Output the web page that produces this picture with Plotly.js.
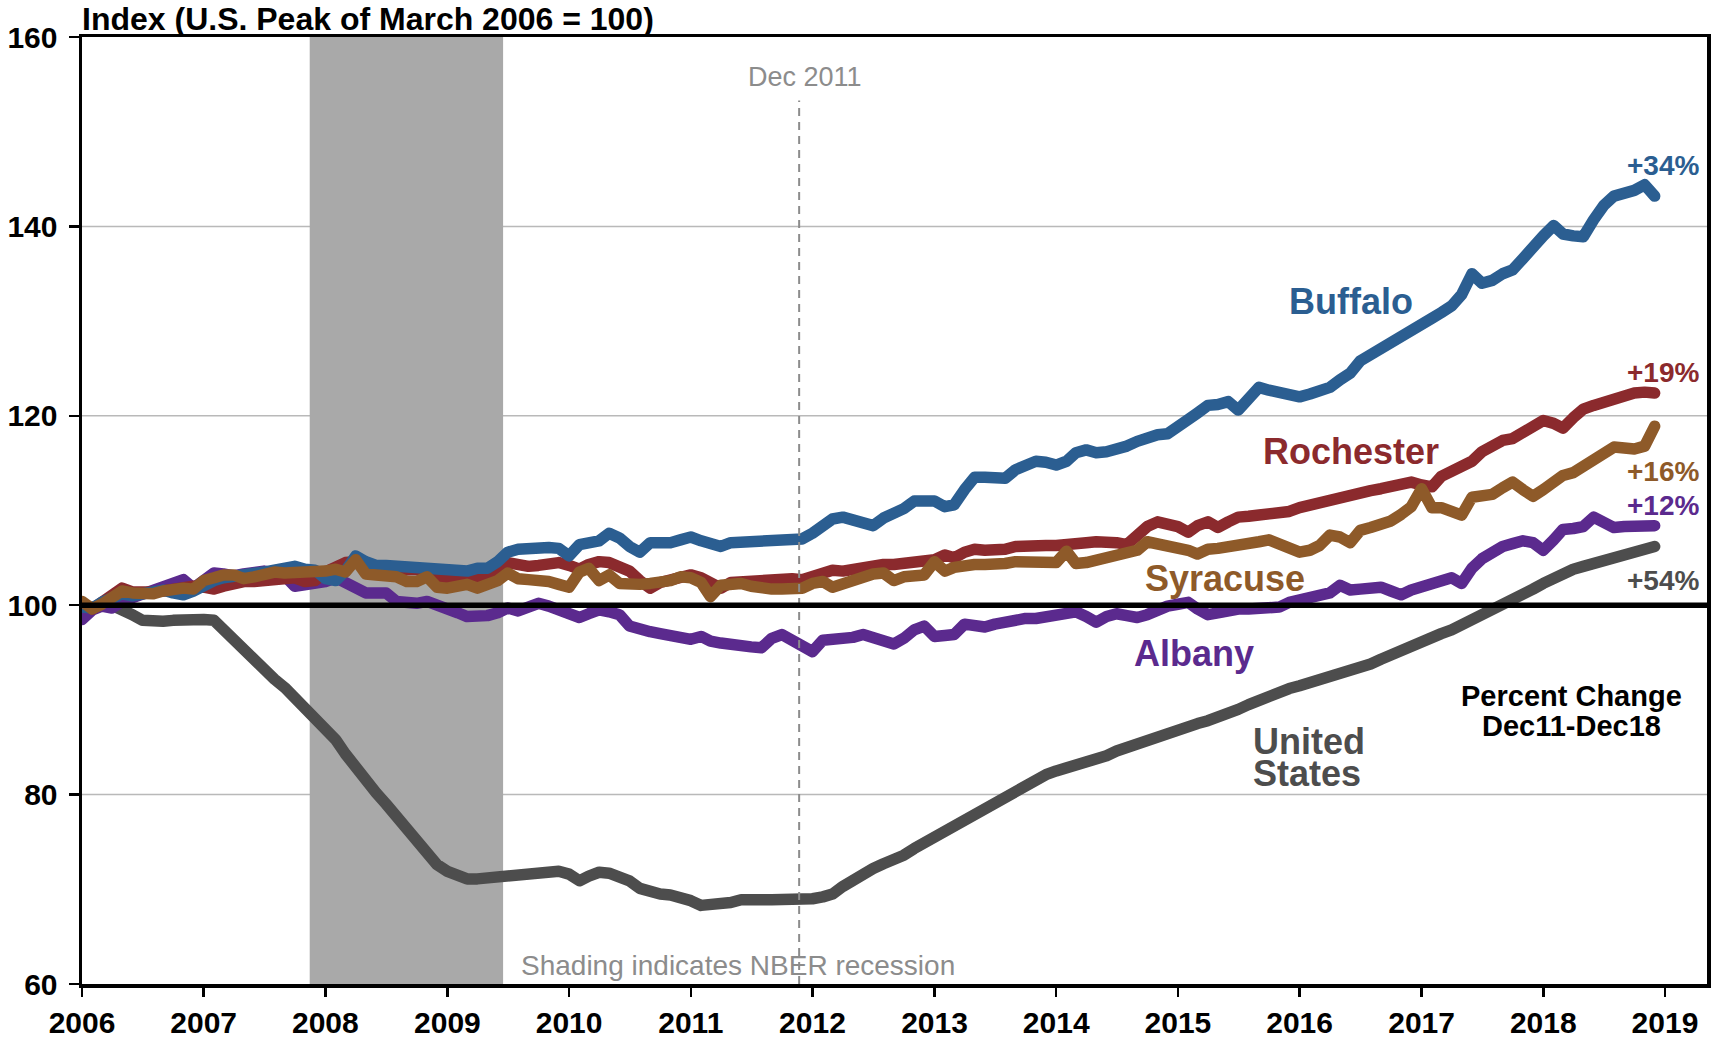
<!DOCTYPE html>
<html>
<head>
<meta charset="utf-8">
<script src="https://cdn.plot.ly/plotly-3.0.1.min.js"></script>
<style>
html,body{margin:0;padding:0;background:#fff;}
#chart{width:1715px;height:1038px;}
.js-line{stroke-linejoin:round !important;stroke-linecap:round !important;}
</style>
</head>
<body>
<div id="chart"></div>
<script>
// Monthly index values, Jan 2006 - Dec 2018 (U.S. peak of March 2006 = 100)
const unitedStates = [
99.5,99.8,100.0,100.0,99.6,99.0,98.4,98.2,98.3,98.4,98.5,98.5,
98.5,98.4,97.4,96.5,95.3,94.0,93.0,92.2,91.3,90.3,89.2,88.2,
87.2,85.8,84.3,82.8,81.5,80.2,79.0,77.7,76.3,74.8,73.5,72.6,
71.9,71.4,71.1,71.1,71.2,71.4,71.5,71.5,71.6,71.9,72.0,71.9,
71.6,70.9,71.4,71.8,71.7,71.4,70.9,70.1,69.7,69.5,69.4,69.2,
68.8,68.3,68.3,68.5,68.6,68.9,69.0,68.9,68.9,68.9,68.8,68.9,
69.0,69.2,69.5,70.3,71.0,71.6,72.2,72.7,73.1,73.6,74.3,74.9,
75.3,75.9,76.6,77.4,78.0,78.6,79.2,79.8,80.4,81.0,81.6,82.1,
82.5,82.8,83.1,83.4,83.7,84.1,84.6,85.0,85.4,85.8,86.2,86.6,
86.9,87.2,87.5,87.8,88.1,88.5,89.0,89.5,90.0,90.4,90.9,91.2,
91.5,91.8,92.1,92.4,92.7,93.0,93.3,93.8,94.3,94.8,95.3,95.8,
96.2,96.6,97.0,97.4,97.9,98.4,98.9,99.4,100.0,100.6,101.1,101.7,
102.3,102.9,103.4,103.8,104.1,104.4,104.7,105.0,105.3,105.6,105.9,106.2
];
const buffalo = [
99.8,99.7,100.3,100.8,101.2,101.0,101.2,101.4,101.6,101.3,101.1,101.5,
102.2,102.6,102.9,103.0,103.1,103.4,103.5,103.7,104.0,104.1,103.8,103.7,
102.8,102.6,103.6,105.2,104.6,104.2,104.2,104.1,103.9,103.8,103.9,103.9,
103.8,103.4,103.6,103.9,103.9,104.6,105.6,105.9,106.0,106.2,106.1,106.0,
105.2,106.4,106.6,106.8,107.6,107.1,106.2,105.6,106.6,106.5,106.6,106.9,
107.2,106.8,106.4,106.2,106.6,106.7,106.7,106.7,106.8,107.0,107.1,107.0,
107.6,108.3,109.1,109.3,109.0,108.7,108.4,109.2,109.6,110.2,111.0,111.1,
111.0,110.4,110.6,112.2,113.5,113.5,113.3,113.4,114.3,114.8,115.2,115.1,
114.8,115.2,116.1,116.4,116.1,116.2,116.4,116.8,117.3,117.7,118.0,118.1,
119.0,119.6,120.3,121.1,121.2,121.5,120.6,121.8,123.0,122.7,122.4,122.1,
122.0,122.3,122.6,123.0,123.8,124.5,125.8,126.5,127.2,127.8,128.4,129.2,
129.6,130.3,130.9,131.6,132.8,135.0,134.0,134.3,135.0,135.4,136.6,137.6,
139.0,140.1,139.2,139.0,138.9,140.7,142.2,143.2,143.4,143.8,144.4,143.2
];
const rochester = [
100.2,99.6,100.3,101.0,101.8,101.4,101.3,101.4,101.5,101.7,101.9,102.0,
101.9,101.7,102.0,102.4,102.5,102.5,102.6,102.7,102.8,102.9,102.5,102.6,
103.5,104.1,104.5,104.6,103.7,103.6,103.7,103.8,103.8,103.8,103.4,102.9,
102.7,102.9,102.9,102.7,103.1,103.6,104.5,104.2,104.1,104.2,104.3,104.5,
104.2,103.8,104.3,104.6,104.5,104.2,103.6,102.6,101.8,102.4,102.7,102.9,
103.2,102.9,102.4,101.8,102.4,102.5,102.6,102.7,102.8,102.9,102.8,102.7,
103.0,103.5,103.7,103.6,103.8,104.1,104.2,104.3,104.3,104.4,104.5,104.6,
104.8,105.3,105.0,105.6,105.9,105.8,105.7,105.9,106.2,106.3,106.4,106.3,
106.3,106.5,106.6,106.6,106.7,106.8,106.6,106.4,107.3,108.3,108.8,108.6,
108.3,107.7,108.4,108.8,108.2,108.8,109.3,109.4,109.5,109.5,109.6,109.9,
110.3,110.6,110.8,111.2,111.5,111.7,111.9,112.1,112.3,112.6,112.8,113.0,
112.7,112.5,113.6,114.1,114.6,115.2,116.2,116.8,117.4,117.6,118.3,118.9,
119.5,119.2,118.7,119.8,120.7,121.1,121.5,121.9,122.1,122.4,122.5,122.4
];
const syracuse = [
100.4,99.6,100.1,101.0,101.5,101.3,101.1,101.2,101.5,101.8,101.8,101.7,
102.6,102.9,103.2,103.2,102.8,103.0,103.4,103.5,103.4,103.4,103.5,103.5,
103.6,103.8,103.5,104.8,103.3,103.2,103.2,103.0,102.5,102.5,103.0,101.9,
101.8,102.1,102.2,101.8,102.2,102.6,103.4,102.8,102.7,102.7,102.5,102.2,
101.9,103.5,103.9,102.6,103.2,102.3,102.2,102.2,102.3,102.4,102.6,103.0,
102.9,102.4,100.9,102.1,102.2,102.3,102.0,101.7,101.7,101.7,101.7,101.8,
102.3,102.5,101.9,102.3,102.5,102.8,103.3,103.4,102.6,103.0,103.1,103.2,
104.6,103.6,104.0,104.3,104.3,104.3,104.2,104.4,104.6,104.5,104.5,104.5,
104.5,105.7,104.4,104.5,104.7,105.1,105.4,105.6,105.8,106.7,106.5,106.4,
106.2,105.8,105.4,105.9,106.0,106.1,106.2,106.4,106.7,106.9,106.4,105.8,
105.6,105.8,106.3,107.4,107.2,106.6,107.9,108.2,108.5,108.9,109.6,110.4,
112.3,110.3,110.3,110.0,109.5,111.4,111.5,111.7,112.4,113.0,112.2,111.5,
112.2,113.2,113.7,114.0,114.7,115.5,116.3,116.7,116.6,116.5,116.8,118.9
];
const albany = [
98.5,99.5,99.9,99.7,100.4,100.8,101.1,101.6,102.2,102.3,102.7,101.8,
102.6,103.4,103.3,103.1,103.3,103.5,103.6,103.4,103.1,102.0,102.1,102.2,
102.5,102.9,102.3,101.7,101.3,101.3,101.3,100.4,100.2,100.2,100.4,100.1,
99.7,99.2,98.8,98.8,98.9,99.2,99.7,99.4,99.8,100.2,99.9,99.5,
99.2,98.7,99.1,99.5,99.3,99.0,97.8,97.4,97.2,97.0,96.7,96.5,
96.4,96.7,96.2,96.0,95.8,95.7,95.6,95.5,96.5,96.9,96.3,96.0,
95.1,96.3,96.3,96.5,96.6,96.9,96.5,96.1,95.9,96.5,97.4,97.8,
96.7,96.8,96.9,98.0,97.9,97.7,98.0,98.3,98.6,98.6,98.6,98.8,
99.0,99.2,99.3,98.8,98.2,98.8,99.1,98.9,98.7,99.0,99.5,99.9,
100.1,100.3,99.6,99.0,99.2,99.5,99.6,99.6,99.6,99.5,99.8,100.3,
100.5,100.7,100.9,101.3,102.1,101.6,101.7,101.8,101.9,101.5,101.1,101.6,
101.9,102.2,102.6,102.9,102.3,103.9,104.9,105.6,106.2,106.5,106.8,106.6,
105.8,106.9,108.0,108.1,108.3,109.3,108.7,108.2,108.3,108.4,108.4,108.4
];
const yearTicks = [2006,2007,2008,2009,2010,2011,2012,2013,2014,2015,2016,2017,2018,2019];
const yTicks = [60,80,100,120,140,160];
const pctLabels = ['+34%','+19%','+16%','+12%','+54%'];

// month dates
const months = [];
for (let y = 2006; y <= 2018; y++) {
  for (let m = 1; m <= 12; m++) months.push(y + '-' + (m < 10 ? '0' + m : m) + '-01');
}

const C = {
  us: '#4d4d4d', buf: '#2b5e91', roc: '#8b2a2d', syr: '#8e5a29', alb: '#5b2a8e', gray: '#8c8c8c'
};
const FONT = 'Liberation Sans, Arial, Helvetica, sans-serif';

function tr(y, color) {
  return {x: months, y: y, type: 'scatter', mode: 'lines',
          line: {color: color, width: 11.5}, hoverinfo: 'skip', showlegend: false};
}
const data = [
  tr(unitedStates, C.us), tr(albany, C.alb), tr(rochester, C.roc), tr(buffalo, C.buf), tr(syracuse, C.syr)
];

function ann(text, x, y, color, size, xanchor, weight) {
  return {text: text, x: x, y: y, xref: 'paper', yref: 'paper', showarrow: false,
          xanchor: xanchor || 'center', yanchor: 'middle',
          font: {family: FONT, size: size, color: color, weight: weight || 700}};
}

// horizontal gridlines (interior, except the 100 reference line)
const gridShapes = yTicks.filter(v => v > 60 && v < 160 && v !== 100).map(v => ({
  type: 'line', xref: 'paper', yref: 'y', x0: 0, x1: 1, y0: v, y1: v,
  line: {color: '#b9b9b9', width: 1.5}, layer: 'below'
}));

const layout = {
  width: 1715, height: 1038,
  margin: {l: 82, r: 8, t: 37, b: 54},
  paper_bgcolor: '#fff', plot_bgcolor: '#fff',
  showlegend: false,
  xaxis: {
    type: 'date', range: ['2006-01-01', '2019-05-07'],
    tickvals: yearTicks.map(y => y + '-01-01'), ticktext: yearTicks.map(String),
    ticks: 'outside', ticklen: 9, tickwidth: 2.5, tickcolor: '#000',
    showline: true, linecolor: '#000', linewidth: 3.5, mirror: true,
    showgrid: false, zeroline: false,
    tickfont: {family: FONT, size: 30, color: '#000', weight: 700},
    ticklabelstandoff: 0
  },
  yaxis: {
    range: [60, 160], tickvals: yTicks, ticktext: yTicks.map(String),
    ticks: 'outside', ticklen: 10, tickwidth: 2.5, tickcolor: '#000',
    showline: true, linecolor: '#000', linewidth: 3.5, mirror: true,
    showgrid: false, zeroline: false,
    tickfont: {family: FONT, size: 30, color: '#000', weight: 700},
    ticklabelstandoff: 5
  },
  shapes: gridShapes.concat([
    {type: 'rect', xref: 'x', yref: 'paper', x0: '2007-11-15', x1: '2009-06-17', y0: 0, y1: 1,
     fillcolor: '#a9a9a9', line: {width: 0}, layer: 'below'},
    {type: 'line', xref: 'x', yref: 'y', x0: '2011-11-22', x1: '2011-11-22', y0: 60, y1: 153.3,
     line: {color: C.gray, width: 2, dash: '8px,6px'}, layer: 'above'},
    {type: 'line', xref: 'paper', yref: 'y', x0: 0, x1: 1, y0: 100, y1: 100,
     line: {color: '#000', width: 5.5}, layer: 'above'}
  ]),
  annotations: [
    Object.assign(ann('Index (U.S. Peak of March 2006 = 100)', 0, 1.0194, '#000', 32, 'left'), {xshift: -2}),
    ann('Dec 2011', 0.4449, 0.9582, C.gray, 27, 'center', 400),
    ann('Shading indicates NBER recession', 0.2692, 0.0192, C.gray, 28, 'left', 400),
    ann('Buffalo', 0.7809, 0.7202, C.buf, 36),
    ann('Rochester', 0.7809, 0.5628, C.roc, 36),
    ann('Syracuse', 0.7034, 0.4281, C.syr, 36),
    ann('Albany', 0.6843, 0.3485, C.alb, 36),
    ann('United', 0.7194, 0.256, C.us, 36, 'left'),
    ann('States', 0.7194, 0.2225, C.us, 36, 'left'),
    ann(pctLabels[0], 0.9963, 0.8648, C.buf, 28, 'right'),
    ann(pctLabels[1], 0.9963, 0.6452, C.roc, 28, 'right'),
    ann(pctLabels[2], 0.9963, 0.5417, C.syr, 28, 'right'),
    ann(pctLabels[3], 0.9963, 0.5048, C.alb, 28, 'right'),
    ann(pctLabels[4], 0.9963, 0.4256, C.us, 28, 'right'),
    ann('Percent Change', 0.9169, 0.3045, '#000', 29),
    ann('Dec11-Dec18', 0.9169, 0.2724, '#000', 29)
  ]
};

Plotly.newPlot('chart', data, layout, {staticPlot: true, displayModeBar: false});
</script>
</body>
</html>
